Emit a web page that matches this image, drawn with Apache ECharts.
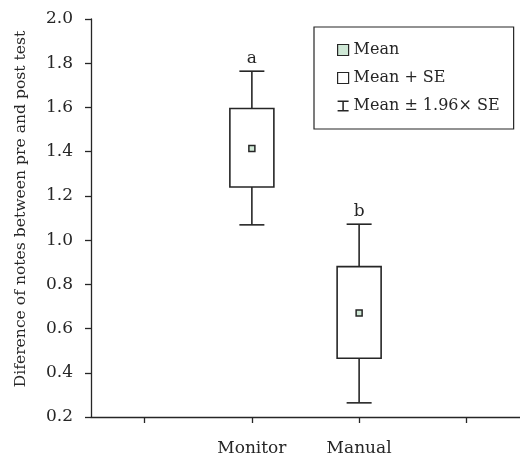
<!DOCTYPE html>
<html>
<head>
<meta charset="utf-8">
<script src="https://cdn.jsdelivr.net/npm/echarts@6/dist/echarts.min.js"></script>
<style>html,body{margin:0;padding:0;background:#fff}#c{width:520px;height:458px}</style>
</head>
<body>
<div id="c"></div>
<script>
var categories = ['', 'Monitor', 'Manual', ' '];
var groupIndex = [1, 2];
var means = [1.414, 0.670];
var seLow = [1.240, 0.466];
var seHigh = [1.595, 0.880];
var ciLow = [1.069, 0.264];
var ciHigh = [1.764, 1.072];
var letters = ['a', 'b'];
var yTicks = { min: 0.2, max: 2.0, interval: 0.2 };

var FONT = 'DejaVu Serif';
var INK = '#262626';

var chart = echarts.init(document.getElementById('c'));

var boxData = groupIndex.map(function (g, i) { return [g, seLow[i], seHigh[i]]; });
var whiskerData = groupIndex.map(function (g, i) { return [g, ciLow[i], ciHigh[i], seLow[i], seHigh[i], letters[i]]; });
var meanData = groupIndex.map(function (g, i) { return [g, means[i]]; });

chart.setOption({
  animation: false,
  backgroundColor: '#fff',
  grid: { left: 91, top: 19, right: 0, bottom: 41, containLabel: false },
  legend: {
    orient: 'vertical',
    left: 314,
    top: 27,
    padding: [13, 14, 13, 23],
    itemGap: 8,
    itemWidth: 11,
    itemHeight: 11,
    borderColor: INK,
    borderWidth: 1.2,
    textStyle: { fontFamily: FONT, fontSize: 16, color: INK, lineHeight: 20 },
    data: [
      { name: 'Mean', icon: 'rect', itemStyle: { color: '#cfe8d6', borderColor: INK, borderWidth: 1.2 } },
      { name: 'Mean + SE', icon: 'rect', itemStyle: { color: '#fff', borderColor: INK, borderWidth: 1.2 } },
      { name: 'Mean ± 1.96× SE', icon: 'path://M0,0H10V1.4H5.7V8.6H10V10H0V8.6H4.3V1.4H0Z', itemStyle: { color: INK, borderWidth: 0 } }
    ]
  },
  xAxis: {
    type: 'category',
    data: categories,
    boundaryGap: true,
    axisLine: { show: true, lineStyle: { color: INK, width: 1.3 } },
    axisTick: { show: true, alignWithLabel: true, interval: 0, length: 6, lineStyle: { color: INK, width: 1.3 } },
    axisLabel: { show: true, interval: 0, margin: 23, fontFamily: FONT, fontSize: 17, color: INK },
    splitLine: { show: false }
  },
  yAxis: {
    type: 'value',
    min: yTicks.min,
    max: yTicks.max,
    interval: yTicks.interval,
    name: 'Diference of notes between pre and post test',
    nameLocation: 'middle',
    nameRotate: 90,
    nameGap: 62,
    nameTextStyle: { fontFamily: FONT, fontSize: 15.6, color: INK, padding: [0, 0, 0, 18] },
    axisLine: { show: true, lineStyle: { color: INK, width: 1.3 } },
    axisTick: { show: true, length: 6, lineStyle: { color: INK, width: 1.3 } },
    axisLabel: { margin: 18, fontFamily: FONT, fontSize: 17, color: INK, formatter: function (v) { return v.toFixed(1); } },
    splitLine: { show: false }
  },
  series: [
    {
      name: 'Mean + SE',
      type: 'custom',
      z: 2,
      itemStyle: { color: '#fff', borderColor: INK },
      data: boxData,
      renderItem: function (params, api) {
        var x = api.value(0);
        var top = api.coord([x, api.value(2)]);
        var bot = api.coord([x, api.value(1)]);
        var w = 44;
        return {
          type: 'rect',
          shape: { x: top[0] - w / 2, y: top[1], width: w, height: bot[1] - top[1] },
          style: { fill: '#fff', stroke: INK, lineWidth: 1.6 }
        };
      }
    },
    {
      name: 'Mean ± 1.96× SE',
      type: 'custom',
      z: 1,
      itemStyle: { color: INK },
      data: whiskerData,
      renderItem: function (params, api) {
        var x = api.value(0);
        var lo = api.coord([x, api.value(1)]);
        var hi = api.coord([x, api.value(2)]);
        var bl = api.coord([x, api.value(3)]);
        var bh = api.coord([x, api.value(4)]);
        var cap = 12.5;
        var st = { stroke: INK, lineWidth: 1.6 };
        var cx = hi[0];
        return {
          type: 'group',
          children: [
            { type: 'line', shape: { x1: cx, y1: hi[1], x2: cx, y2: bh[1] }, style: st },
            { type: 'line', shape: { x1: cx, y1: bl[1], x2: cx, y2: lo[1] }, style: st },
            { type: 'line', shape: { x1: cx - cap, y1: hi[1], x2: cx + cap, y2: hi[1] }, style: st },
            { type: 'line', shape: { x1: cx - cap, y1: lo[1], x2: cx + cap, y2: lo[1] }, style: st },
            { type: 'text', style: { text: letters[params.dataIndex], x: cx, y: hi[1] - 4, align: 'center', verticalAlign: 'bottom', font: '17px "DejaVu Serif"', fill: INK } }
          ]
        };
      }
    },
    {
      name: 'Mean',
      type: 'scatter',
      z: 3,
      symbol: 'rect',
      symbolSize: 6,
      itemStyle: { color: '#cfe8d6', borderColor: INK, borderWidth: 1.5, opacity: 1 },
      data: meanData
    }
  ]
});
</script>
</body>
</html>
